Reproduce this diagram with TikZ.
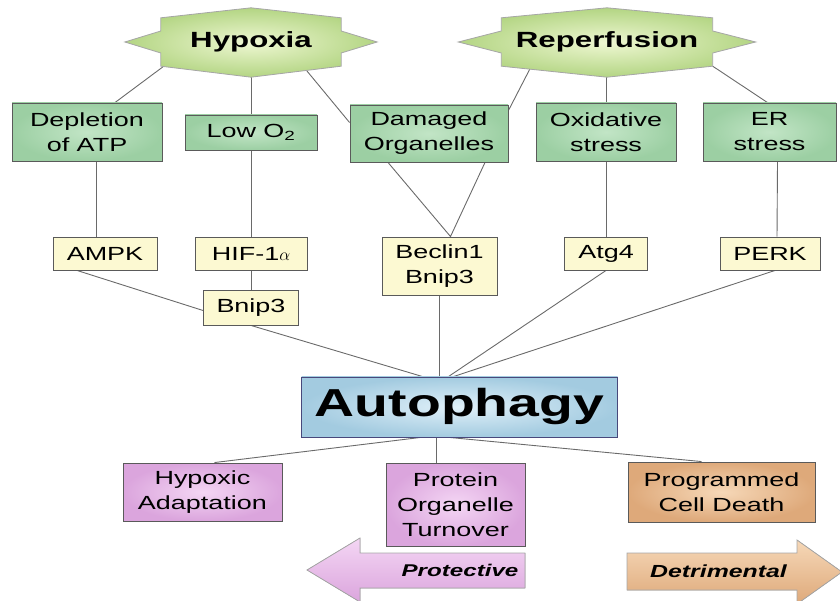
\documentclass[tikz,border=0pt]{standalone}
\usepackage{fontspec}
\setmainfont{Liberation Sans}[FakeStretch=1.42]
\usepackage{tikz}
\usetikzlibrary{backgrounds}
\usetikzlibrary{calc}
\definecolor{stin}{HTML}{EEF7D2}
\definecolor{stout}{HTML}{B3D583}
\definecolor{grin}{HTML}{C2E5C6}
\definecolor{grout}{HTML}{9CCFA3}
\definecolor{yel}{HTML}{FCF9D2}
\definecolor{blin}{HTML}{E0F0F9}
\definecolor{blout}{HTML}{A3CBE0}
\definecolor{pkin}{HTML}{F4D6F4}
\definecolor{pkout}{HTML}{DBA5DD}
\definecolor{orin}{HTML}{F6D8B8}
\definecolor{orout}{HTML}{DEA97A}
\definecolor{lnc}{HTML}{6A6A6A}
\definecolor{bord}{HTML}{5A5A5A}
\tikzset{box/.style={font=\fontsize{19}{25}\selectfont, align=center, inner sep=0pt, draw=bord, line width=0.9pt}}
\tikzset{gbox/.style={box, inner color=grin, outer color=grout}}
\tikzset{ybox/.style={box, fill=yel}}
\tikzset{pbox/.style={box, inner color=pkin, outer color=pkout}}
\tikzset{obox/.style={box, inner color=orin, outer color=orout}}
\tikzset{hubbox/.style={box, font=\fontsize{39}{44}\selectfont\bfseries, inner color=blin, outer color=blout, draw=bord!80!blue}}
\tikzset{cause/.style={font=\fontsize{22}{26}\selectfont\bfseries, inner sep=0pt, minimum height=48}}
\tikzset{con/.style={draw=lnc, line width=0.9pt}}
\tikzset{starfill/.style={draw=gray!70, line width=0.8pt, inner color=stin, outer color=stout}}
% star outline round a cause node, #2 = how far the side points reach
\newcommand{\starback}[2]{%
  \path[starfill] ([yshift=10pt]#1.north) -- (#1.north east) -- ([yshift=11pt]#1.east)
    -- ([xshift=#2]#1.east) -- ([yshift=-11pt]#1.east) -- (#1.south east)
    -- ([yshift=-11pt]#1.south) -- (#1.south west) -- ([yshift=-11pt]#1.west)
    -- ([xshift=-#2]#1.west) -- ([yshift=11pt]#1.west) -- (#1.north west) -- cycle;}

\begin{document}
\begin{tikzpicture}[x=1pt,y=1pt]
  \useasboundingbox (0,0) rectangle (840,600);
  % causes
  \node[cause, minimum width=180] (hyp) at (251,558) {Hypoxia};
  \node[cause, minimum width=211] (rep) at (607,558) {Reperfusion};
  % stresses
  \node[gbox, minimum width=150, minimum height=58] (dep) at (87,468) {Depletion\\of ATP};
  \node[gbox, minimum width=132, minimum height=35] (lowo) at (251,467.5) {Low O\textsubscript{2}};
  \node[gbox, minimum width=158, minimum height=57] (dam) at (429,466.5) {Damaged\\Organelles};
  \node[gbox, minimum width=140, minimum height=58] (oxi) at (606,468) {Oxidative\\stress};
  \node[gbox, minimum width=133, minimum height=58] (ers) at (769.5,468) {ER\\stress};
  % signals
  \node[ybox, minimum width=104, minimum height=33] (ampk) at (105,346.5) {AMPK};
  \node[ybox, minimum width=112, minimum height=33] (hif) at (251,346.5) {HIF-1$\alpha$};
  \node[ybox, minimum width=95, minimum height=35] (bnip) at (251,292.5) {Bnip3};
  \node[ybox, minimum width=115, minimum height=58] (bec) at (439.5,334) {Beclin1\\Bnip3};
  \node[ybox, minimum width=83, minimum height=33] (atg) at (606,346.5) {Atg4};
  \node[ybox, minimum width=100, minimum height=33] (perk) at (770,346.5) {PERK};
  % hub and outcomes
  \node[hubbox, minimum width=316, minimum height=60] (auto) at (459.5,193) {Autophagy};
  \node[pbox, minimum width=159, minimum height=58] (hadapt) at (202.5,108) {Hypoxic\\Adaptation};
  \node[pbox, minimum width=139, minimum height=83] (prot) at (455.5,95.5) {Protein\\Organelle\\Turnover};
  \node[obox, minimum width=187, minimum height=60] (pcd) at (721.5,108) {Programmed\\Cell Death};

  \begin{scope}[on background layer]
    \draw[con] ([xshift=3]hyp.south west) -- ([xshift=28]dep.north);
    \draw[con] (hyp.south) -- (lowo.north);
    \draw[con] ([xshift=52]hyp.south) -- ([yshift=11]dam.west);
    \draw[con] ([xshift=30]rep.south west) -- ([yshift=23]dam.east);
    \draw[con] (rep.south -| oxi.north) -- (oxi.north);
    \draw[con] (rep.south east) -- ([xshift=-2]ers.north);
    \draw[con] ([xshift=9]dep.south) -- ([xshift=-9]ampk.north);
    \draw[con] (lowo) -- (hif);
    \draw[con] (hif) -- (bnip);
    \draw[con] ([xshift=-41]dam.south) -- ([xshift=11]bec.north) -- ([xshift=56]dam.south);
    \draw[con] (oxi) -- (atg);
    \draw[con] ([xshift=8]ers.south) -- ([xshift=7]perk.north);
    \draw[con] ([xshift=-28]ampk.south) -- ([yshift=-3]bnip.west);
    \draw[con] (bnip.south) -- ([xshift=-37]auto.north);
    \draw[con] (bec.south) -- (bec.south |- auto.north);
    \draw[con] (atg.south) -- ([xshift=-11]auto.north);
    \draw[con] ([xshift=5]perk.south) -- ([xshift=-6]auto.north);
    \draw[con] ([xshift=-39]auto.south) -- ([xshift=12]hadapt.north);
    \draw[con] ([xshift=-23]auto.south) -- ([xshift=-23]auto.south |- prot.north);
    \draw[con] ([xshift=-10]auto.south) -- ([xshift=-20]pcd.north);
    \starback{hyp}{36pt}
    \starback{rep}{43pt}
  \end{scope}

  % direction arrows
  \filldraw[draw=gray!70, line width=0.8pt, top color=pkin, bottom color=pkout]
    (525,47) -- (360,47) -- (360,62) -- (307,30) -- (360,-2) -- (360,12) -- (525,12) -- cycle;
  \filldraw[draw=gray!70, line width=0.8pt, top color=orin, bottom color=orout]
    (627,47) -- (797,47) -- (797,60) -- (842,28) -- (797,-4) -- (797,10) -- (627,10) -- cycle;
  \node[font=\fontsize{17}{20}\selectfont\bfseries\itshape] (protlbl) at (460,30) {Protective};
  \node[font=\fontsize{17.5}{20}\selectfont\bfseries\itshape] (detlbl) at (718.5,29) {Detrimental};
\end{tikzpicture}
\end{document}
